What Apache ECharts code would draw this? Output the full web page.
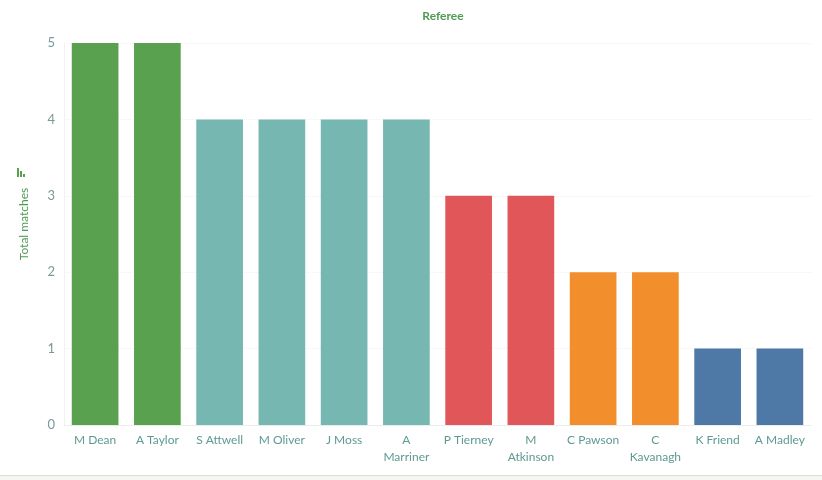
<!DOCTYPE html>
<html>
<head>
<meta charset="utf-8">
<script src="https://cdn.jsdelivr.net/npm/echarts@6/dist/echarts.min.js"></script>
<style>
html, body { margin: 0; padding: 0; background: #fff; }
#main { width: 822px; height: 480px; }
</style>
</head>
<body>
<div id="main"></div>
<script>
var referees = ['M Dean', 'A Taylor', 'S Attwell', 'M Oliver', 'J Moss', 'A\nMarriner',
    'P Tierney', 'M\nAtkinson', 'C Pawson', 'C\nKavanagh', 'K Friend', 'A Madley'];
var matches = [5, 5, 4, 4, 4, 4, 3, 3, 2, 2, 1, 1];
var yTicks = [0, 1, 2, 3, 4, 5];

// colour per match count (Tableau style)
var countColors = { 5: '#59a14f', 4: '#76b7b2', 3: '#e15759', 2: '#f28e2b', 1: '#4e79a7' };

var chartDom = document.getElementById('main');
var myChart = echarts.init(chartDom);

var option = {
    animation: false,
    title: {
        text: 'Referee',
        left: 438,
        top: 5,
        textAlign: 'center',
        textStyle: { fontFamily: 'Lato', fontSize: 12, fontWeight: 'bold', color: '#4f9a55' }
    },
    grid: { left: 64, right: 11, top: 43, bottom: 55 },
    xAxis: {
        type: 'category',
        data: referees,
        axisLine: { lineStyle: { color: '#ececec' } },
        axisTick: { show: false },
        axisLabel: {
            interval: 0,
            margin: 7,
            fontFamily: 'Lato',
            fontSize: 12,
            lineHeight: 17,
            color: '#5f9a92'
        }
    },
    yAxis: {
        type: 'value',
        min: yTicks[0],
        max: yTicks[yTicks.length - 1],
        interval: 1,
        name: 'Total matches',
        nameLocation: 'middle',
        nameGap: 34,
        nameTextStyle: { fontFamily: 'Lato', fontSize: 12, color: '#4f9a55', padding: [0, 0, 0, 20] },
        axisLine: { show: true, lineStyle: { color: '#f0f0ec' } },
        axisTick: { show: false },
        axisLabel: { margin: 9, fontFamily: 'Lato', fontSize: 13, color: '#7a9898' },
        splitLine: { lineStyle: { color: '#f1f1ee', type: 'dotted' } }
    },
    series: [{
        type: 'bar',
        barWidth: '75%',
        data: matches.map(function (v) {
            return { value: v, itemStyle: { color: countColors[v] } };
        })
    }],
    graphic: [
        // small sort icon above the axis title
        { type: 'rect', shape: { x: 17, y: 168, width: 2, height: 9 }, style: { fill: '#59a14f' } },
        { type: 'rect', shape: { x: 20, y: 171, width: 2, height: 6 }, style: { fill: '#59a14f' } },
        { type: 'rect', shape: { x: 23, y: 174, width: 2, height: 3 }, style: { fill: '#59a14f' } },
        // bottom band
        { type: 'rect', shape: { x: 0, y: 475, width: 822, height: 5 }, style: { fill: '#f5f5f2' } },
        { type: 'line', shape: { x1: 0, y1: 475.5, x2: 822, y2: 475.5 }, style: { stroke: '#dcdcd8', lineWidth: 1 } }
    ]
};

option && myChart.setOption(option);
</script>
</body>
</html>
